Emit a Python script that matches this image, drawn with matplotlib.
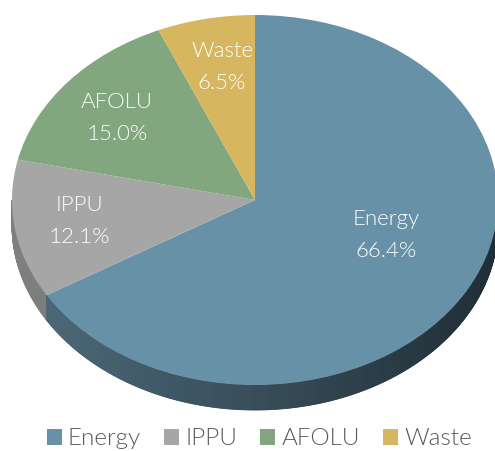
import matplotlib
matplotlib.use('Agg')
import matplotlib.pyplot as plt
import numpy as np
from matplotlib.patches import Polygon, Patch
from matplotlib.colors import to_rgb

# ---- data ----
categories = ['Energy', 'IPPU', 'AFOLU', 'Waste']
shares = [66.4, 12.1, 15.0, 6.5]
pct_labels = ['66.4%', '12.1%', '15.0%', '6.5%']

# ---- style ----
colors = ['#6791a6', '#a6a6a6', '#82a77e', '#d6b65f']
side_light = ['#4f6c7c', '#7f7f7f', '#5f7a5c', '#a08843']
side_dark = ['#1f2e36', '#6a6a6a', '#4a5f48', '#7f6a33']
FONT = ['Lato', 'DejaVu Sans']
plt.rcParams['font.family'] = FONT
WEIGHT = 300

W, H = 495, 451
cx, cy = 255, 200          # ellipse centre (px, from top)
rx, ry = 243, 185          # radii in px
depth_px = 25

fig = plt.figure(figsize=(W / 100, H / 100), dpi=100)
ax = fig.add_axes([0, 0, 1, 1])

def px(x, y):
    return (x - cx) / rx, (cy - y) / ry

depth = depth_px / ry

total = sum(shares)
bounds = [90.0]
for s in shares:
    bounds.append(bounds[-1] - 360.0 * s / total)

def cat_at(theta):
    t = theta
    while t > 90:
        t -= 360
    while t < bounds[-1]:
        t += 360
    for i in range(len(shares)):
        if bounds[i + 1] <= t <= bounds[i]:
            return i
    return 0

# side wall (front half: 180..360 deg)
ts = np.linspace(180, 360, 721)
for a, b in zip(ts[:-1], ts[1:]):
    m = 0.5 * (a + b)
    i = cat_at(m)
    xm = np.cos(np.radians(m))
    f = (xm + 1) / 2
    c = np.array(to_rgb(side_light[i])) * (1 - f) + np.array(to_rgb(side_dark[i])) * f
    ra, rb = np.radians(a), np.radians(b)
    poly = [(np.cos(ra), np.sin(ra)), (np.cos(rb), np.sin(rb)),
            (np.cos(rb), np.sin(rb) - depth), (np.cos(ra), np.sin(ra) - depth)]
    ax.add_patch(Polygon(poly, closed=True, facecolor=c, edgecolor=c, linewidth=0.6))

# top surface
ax.pie(shares, colors=colors, startangle=90, counterclock=False, radius=1,
       center=(0, 0), wedgeprops=dict(linewidth=0))
ax.set_aspect('auto')
ax.set_xlim(-cx / rx, (W - cx) / rx)
ax.set_ylim(-(H - cy) / ry, cy / ry)
ax.axis('off')

# labels (name baseline in px; percentage 32 px lower)
label_pos = [(386, 225), (79, 211), (117, 108), (222, 57)]
for name, pct, (lx, ly) in zip(categories, pct_labels, label_pos):
    x1, y1 = px(lx, ly)
    x2, y2 = px(lx, ly + 32)
    ax.text(x1, y1, name, ha='center', va='baseline', color='white', fontsize=16,
            fontweight=WEIGHT)
    ax.text(x2, y2, pct, ha='center', va='baseline', color='white', fontsize=16,
            fontweight=WEIGHT)

# legend
handles = [Patch(facecolor=c, edgecolor='none') for c in colors]
leg = fig.legend(handles, categories, loc='lower center', ncol=4, frameon=False,
                 bbox_to_anchor=(0.524, -0.045), handlelength=0.62,
                 handleheight=0.62, handletextpad=0.25, columnspacing=0.95,
                 labelcolor='#595959',
                 prop=dict(family=FONT, size=17.5, weight=WEIGHT))

fig.savefig('out.png', dpi=100)
